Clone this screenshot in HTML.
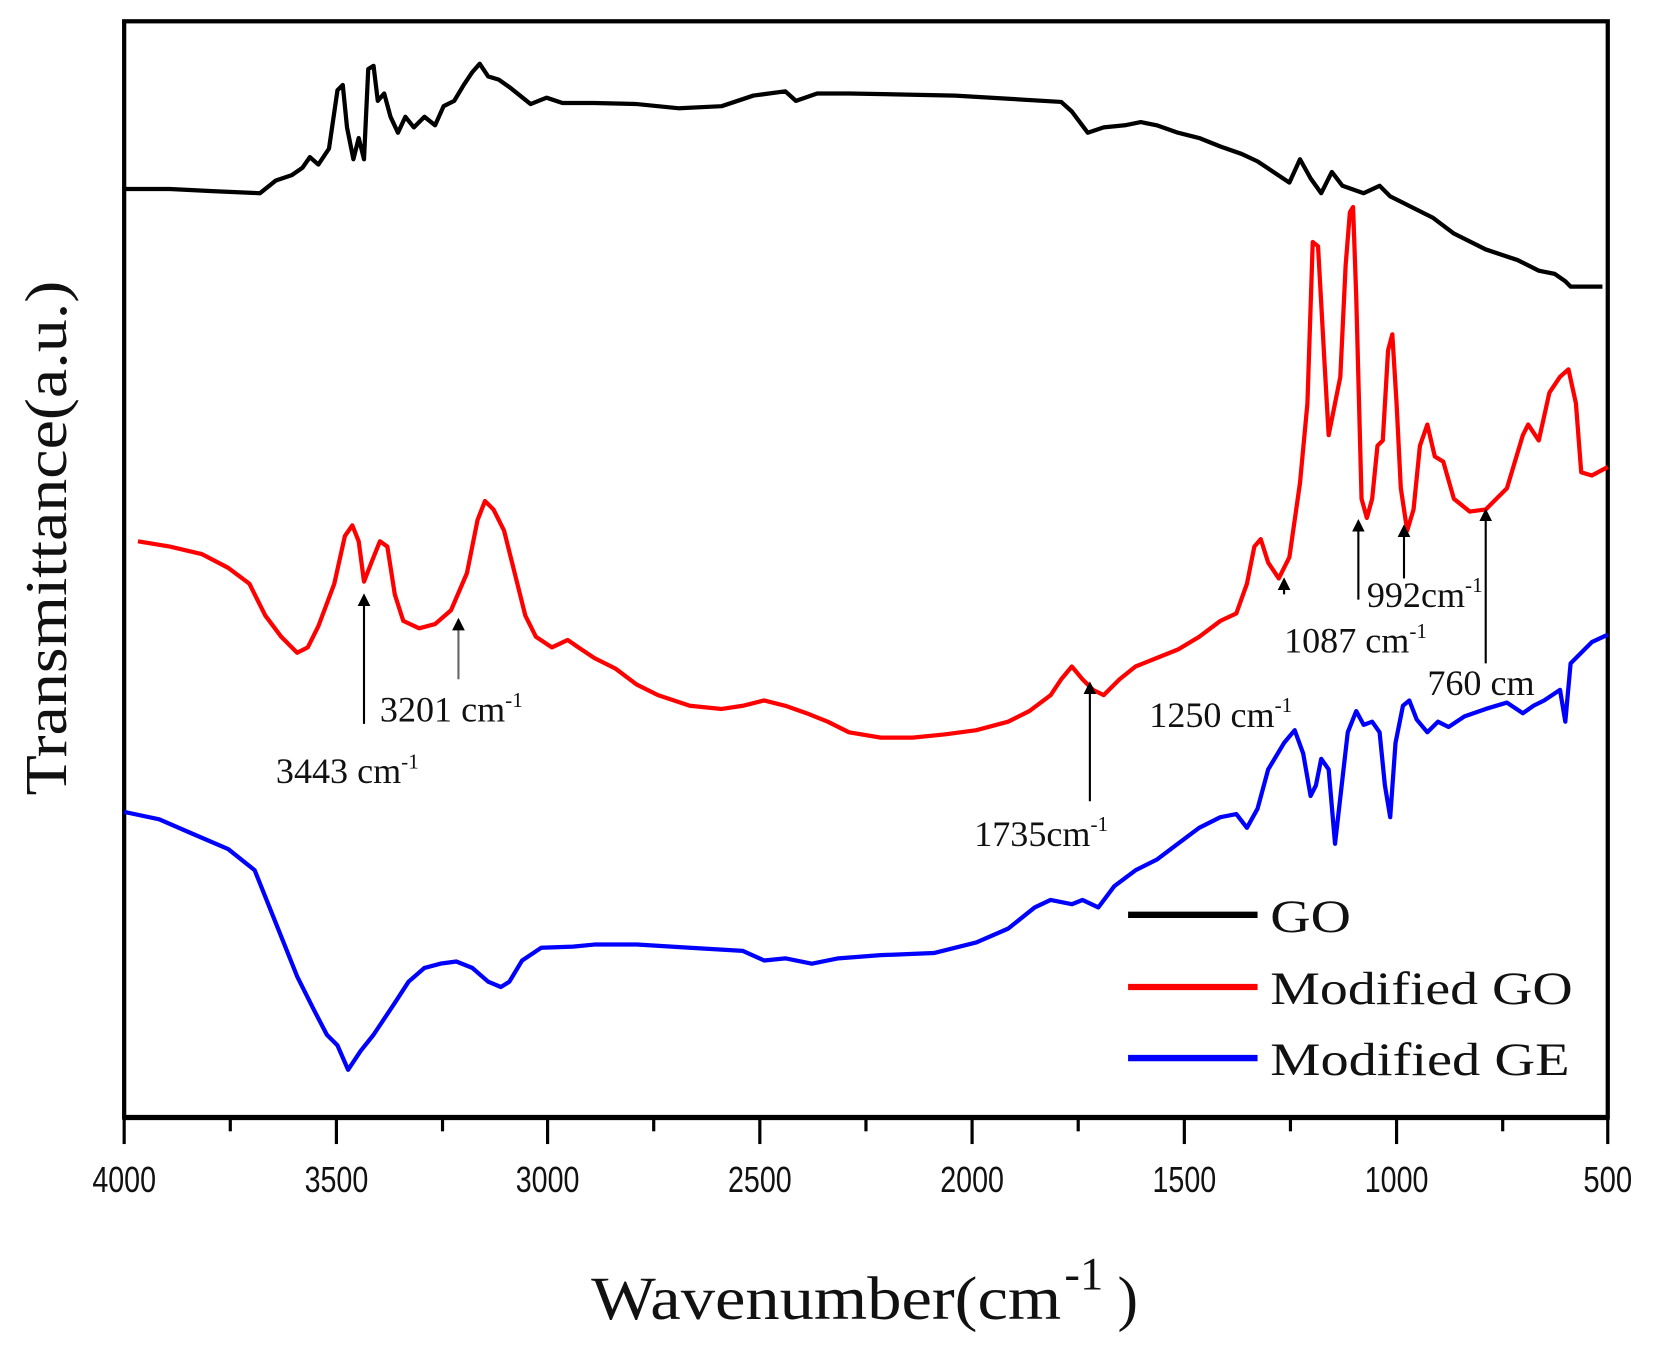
<!DOCTYPE html>
<html><head><meta charset="utf-8"><style>
html,body{margin:0;padding:0;background:#fff;}
svg{display:block;}
text{font-family:"Liberation Serif",serif;fill:#111;}
text.t{font-family:"Liberation Sans",sans-serif;font-size:34px;}
.a{font-size:34px;}
.l{font-size:44px;}
</style></head><body>
<svg width="1664" height="1350" viewBox="0 0 1568 1272" xmlns="http://www.w3.org/2000/svg">
<defs><marker id="ah" markerWidth="6" markerHeight="6" refX="3" refY="3" orient="auto" markerUnits="strokeWidth"><path d="M0,0 L6,3 L0,6 z" fill="#000"/></marker></defs>
<rect x="117" y="20" width="1398" height="1033" fill="none" stroke="#000" stroke-width="4"/>
<line x1="117" y1="1053" x2="1515" y2="1053" stroke="#000" stroke-width="5"/>
<g stroke="#000" stroke-width="3">
<line x1="117" y1="1053" x2="117" y2="1078"/><line x1="217" y1="1053" x2="217" y2="1066"/>
<line x1="317" y1="1053" x2="317" y2="1078"/><line x1="417" y1="1053" x2="417" y2="1066"/>
<line x1="516" y1="1053" x2="516" y2="1078"/><line x1="616" y1="1053" x2="616" y2="1066"/>
<line x1="716" y1="1053" x2="716" y2="1078"/><line x1="816" y1="1053" x2="816" y2="1066"/>
<line x1="916" y1="1053" x2="916" y2="1078"/><line x1="1016" y1="1053" x2="1016" y2="1066"/>
<line x1="1116" y1="1053" x2="1116" y2="1078"/><line x1="1216" y1="1053" x2="1216" y2="1066"/>
<line x1="1316" y1="1053" x2="1316" y2="1078"/><line x1="1416" y1="1053" x2="1416" y2="1066"/>
<line x1="1515" y1="1053" x2="1515" y2="1078"/>
</g>
<g text-anchor="middle">
<text class="t" x="117" y="1123" textLength="60" lengthAdjust="spacingAndGlyphs">4000</text><text class="t" x="317" y="1123" textLength="60" lengthAdjust="spacingAndGlyphs">3500</text><text class="t" x="516" y="1123" textLength="60" lengthAdjust="spacingAndGlyphs">3000</text>
<text class="t" x="716" y="1123" textLength="60" lengthAdjust="spacingAndGlyphs">2500</text><text class="t" x="916" y="1123" textLength="60" lengthAdjust="spacingAndGlyphs">2000</text><text class="t" x="1116" y="1123" textLength="60" lengthAdjust="spacingAndGlyphs">1500</text>
<text class="t" x="1316" y="1123" textLength="60" lengthAdjust="spacingAndGlyphs">1000</text><text class="t" x="1515" y="1123" textLength="46" lengthAdjust="spacingAndGlyphs">500</text>
</g>
<text x="557" y="1243" style="font-size:58px" textLength="443" lengthAdjust="spacingAndGlyphs">Wavenumber(cm</text>
<text x="1003" y="1215" style="font-size:44px">-1</text>
<text x="1053" y="1243" style="font-size:58px">)</text>
<text transform="translate(62,507) rotate(-90)" text-anchor="middle" style="font-size:56px" textLength="485" lengthAdjust="spacingAndGlyphs">Transmittance(a.u.)</text>
<g fill="none" stroke-width="4" stroke-linejoin="round">
<polyline stroke="#000" points="117,178 160,178 200,180 245,182 260,170 275,165 285,158 292,148 300,155 310,140 318,85 323,80 327,120 333,150 338,130 343,150 347,65 352,62 356,95 362,88 368,110 375,125 382,110 390,120 400,110 410,118 418,100 428,95 437,80 445,68 452,60 460,72 470,75 480,82 490,90 500,98 515,92 530,97 560,97 600,98 640,102 680,100 710,90 740,86 750,95 770,88 800,88 900,90 1000,96 1010,105 1025,125 1040,120 1060,118 1075,115 1090,118 1110,125 1130,130 1150,138 1170,145 1185,152 1200,162 1215,172 1225,150 1235,168 1245,182 1255,162 1265,175 1285,182 1300,175 1310,185 1330,195 1350,205 1370,220 1400,235 1430,245 1450,255 1465,258 1475,265 1480,270 1510,270"/>
<polyline stroke="#f00" points="130,510 160,515 190,522 215,535 235,550 250,580 265,600 280,615 290,610 300,590 315,550 325,505 332,495 338,510 343,548 350,530 358,510 365,515 372,560 380,585 395,592 410,588 425,575 440,540 450,490 457,472 465,480 475,500 485,540 495,580 505,600 520,610 535,603 545,610 560,620 580,630 600,645 620,655 650,665 680,668 700,665 720,660 740,665 760,672 780,680 800,690 830,695 860,695 890,692 920,688 950,680 970,670 990,655 1000,640 1010,628 1020,640 1030,650 1040,655 1055,640 1070,628 1090,620 1110,612 1130,600 1150,585 1165,578 1175,550 1182,515 1188,508 1195,530 1205,545 1215,525 1225,455 1232,380 1237,228 1242,232 1248,340 1252,410 1258,380 1263,355 1268,250 1272,200 1275,195 1278,280 1283,470 1288,488 1293,470 1298,420 1303,415 1308,330 1312,315 1316,380 1320,460 1326,500 1332,480 1338,420 1345,400 1352,430 1360,435 1370,470 1385,482 1400,480 1420,460 1435,410 1440,400 1450,415 1460,370 1470,355 1478,348 1485,380 1490,445 1500,448 1515,440"/>
<polyline stroke="#00f" points="117,765 150,772 180,785 215,800 240,820 260,870 280,920 295,950 308,975 318,985 328,1008 340,990 352,975 362,960 372,945 385,925 400,912 415,908 430,906 445,912 460,925 472,930 480,925 492,905 510,893 540,892 560,890 600,890 650,893 700,896 720,905 740,903 765,908 790,903 830,900 880,898 920,888 950,875 975,855 990,848 1010,852 1020,848 1035,855 1050,835 1070,820 1090,810 1110,795 1130,780 1150,770 1165,767 1175,780 1185,762 1195,725 1210,700 1220,688 1228,710 1235,750 1240,740 1245,715 1252,725 1258,795 1262,760 1270,690 1278,670 1285,683 1293,680 1300,690 1305,740 1310,770 1315,700 1322,665 1328,660 1335,678 1345,690 1355,680 1365,685 1380,675 1400,668 1420,662 1435,672 1445,665 1455,660 1470,650 1475,680 1480,625 1490,615 1500,605 1515,598"/>
</g>
<g stroke="#000" stroke-width="2" marker-end="url(#ah)">
<line x1="343" y1="682" x2="343" y2="565"/>
<line x1="432" y1="640" x2="432" y2="588" stroke="#666"/>
<line x1="1027" y1="755" x2="1027" y2="648"/>
<line x1="1210" y1="560" x2="1210" y2="550"/>
<line x1="1280" y1="565" x2="1280" y2="495"/>
<line x1="1323" y1="545" x2="1323" y2="500"/>
<line x1="1400" y1="625" x2="1400" y2="485"/>
</g>
<g class="a">
<text x="260" y="738">3443 cm<tspan dy="-14" style="font-size:20px">-1</tspan></text>
<text x="358" y="680">3201 cm<tspan dy="-14" style="font-size:20px">-1</tspan></text>
<text x="918" y="797">1735cm<tspan dy="-14" style="font-size:20px">-1</tspan></text>
<text x="1083" y="685">1250 cm<tspan dy="-14" style="font-size:20px">-1</tspan></text>
<text x="1210" y="615">1087 cm<tspan dy="-14" style="font-size:20px">-1</tspan></text>
<text x="1288" y="572">992cm<tspan dy="-14" style="font-size:20px">-1</tspan></text>
<text x="1345" y="655">760 cm</text>
</g>
<g stroke-width="6">
<line x1="1063" y1="862" x2="1185" y2="862" stroke="#000"/>
<line x1="1063" y1="930" x2="1185" y2="930" stroke="#f00"/>
<line x1="1063" y1="997" x2="1185" y2="997" stroke="#00f"/>
</g>
<g class="l">
<text x="1197" y="878" textLength="76" lengthAdjust="spacingAndGlyphs">GO</text>
<text x="1197" y="946" textLength="285" lengthAdjust="spacingAndGlyphs">Modified GO</text>
<text x="1197" y="1013" textLength="282" lengthAdjust="spacingAndGlyphs">Modified GE</text>
</g>
</svg>
</body></html>
